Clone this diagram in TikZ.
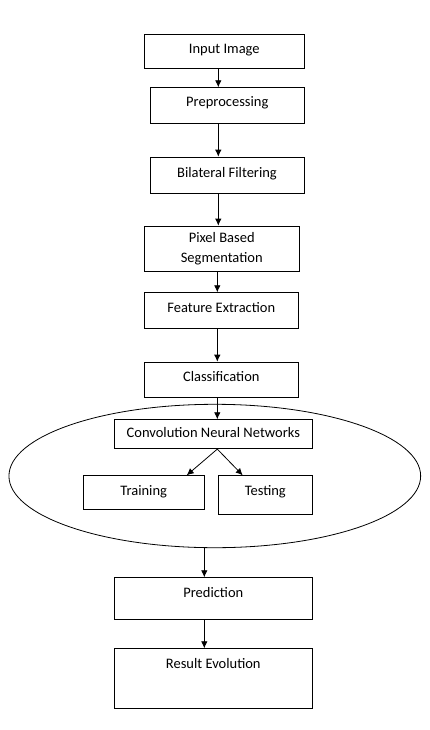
\documentclass[tikz,border=0pt]{standalone}
\usepackage{fontspec}
\setmainfont{Carlito}
\usetikzlibrary{shapes.geometric,arrows.meta}

\begin{document}
\begin{tikzpicture}[x=1pt,y=-1pt,
    box/.style={draw,line width=0.8pt,anchor=north,inner ysep=0pt,font=\fontsize{14.5}{20}\selectfont},
    link/.style={line width=0.8pt,-{Latex[length=7pt,width=6.5pt]}}]
            \path[use as bounding box] (0,0) rectangle (429,730);

            \coordinate (axA) at (218.3,0);
            \coordinate (axB) at (217.3,0);
            \coordinate (axC) at (204.3,0);
            \coordinate (trIn) at (186.7,0);
            \coordinate (teIn) at (242.7,0);

            \node[draw,line width=0.8pt,ellipse,minimum width=411.7pt,minimum height=143.4pt] (zone) at (214.8,476) {};

            \node[box,minimum width=160pt,text height=18.4pt,text depth=15pt] (inp) at (224.3,34.3) {Input Image};
            \node[box,minimum width=154pt,text height=18.7pt,text depth=16.7pt] (pre) at (227.3,87.3) {Preprocessing};
            \node[box,minimum width=154pt,text height=20pt,text depth=16.6pt] (bil) at (227,156.7) {Bilateral Filtering};
            \node[box,minimum width=154.7pt,minimum height=45.7pt,anchor=center,align=center] (pix) at (221.7,248.9) {\raisebox{-2pt}{Pixel Based}\\\raisebox{-2pt}{Segmentation}};
            \node[box,minimum width=154pt,text height=19.4pt,text depth=16.6pt] (fea) at (221.3,292.3) {Feature Extraction};
            \node[box,minimum width=154pt,text height=19pt,text depth=16.6pt] (cla) at (221.3,361.7) {Classification};
            \node[box,minimum width=198pt,text height=17.4pt,text depth=11.6pt] (cnn) at (213.3,419.3) {Convolution Neural Networks};
            \node[box,minimum width=121.3pt,text height=19.7pt,text depth=14.3pt] (tra) at (143.7,475.3) {Training};
            \node[box,minimum width=94pt,text height=19.7pt,text depth=19.3pt] (tes) at (265.3,475.3) {Testing};
            \node[box,minimum width=198pt,text height=19.4pt,text depth=22.6pt] (prd) at (213.3,577.3) {Prediction};
            \node[box,minimum width=198pt,text height=20pt,text depth=40pt] (res) at (213.3,648.3) {Result Evolution};

            \foreach \a/\b/\ax in {inp/pre/axA,pre/bil/axA,bil/pix/axA,pix/fea/axB,fea/cla/axB,cla/cnn/axB,prd/res/axC} {
                \draw[link] (\a.south -| \ax) -- (\b.north -| \ax);
            }
            \draw[link] (cnn.south -| axB) -- (tra.north -| trIn);
            \draw[link] (cnn.south -| axB) -- (tes.north -| teIn);
            \draw[link] (zone.south -| axC) -- (prd.north -| axC);
        \end{tikzpicture}
\end{document}
